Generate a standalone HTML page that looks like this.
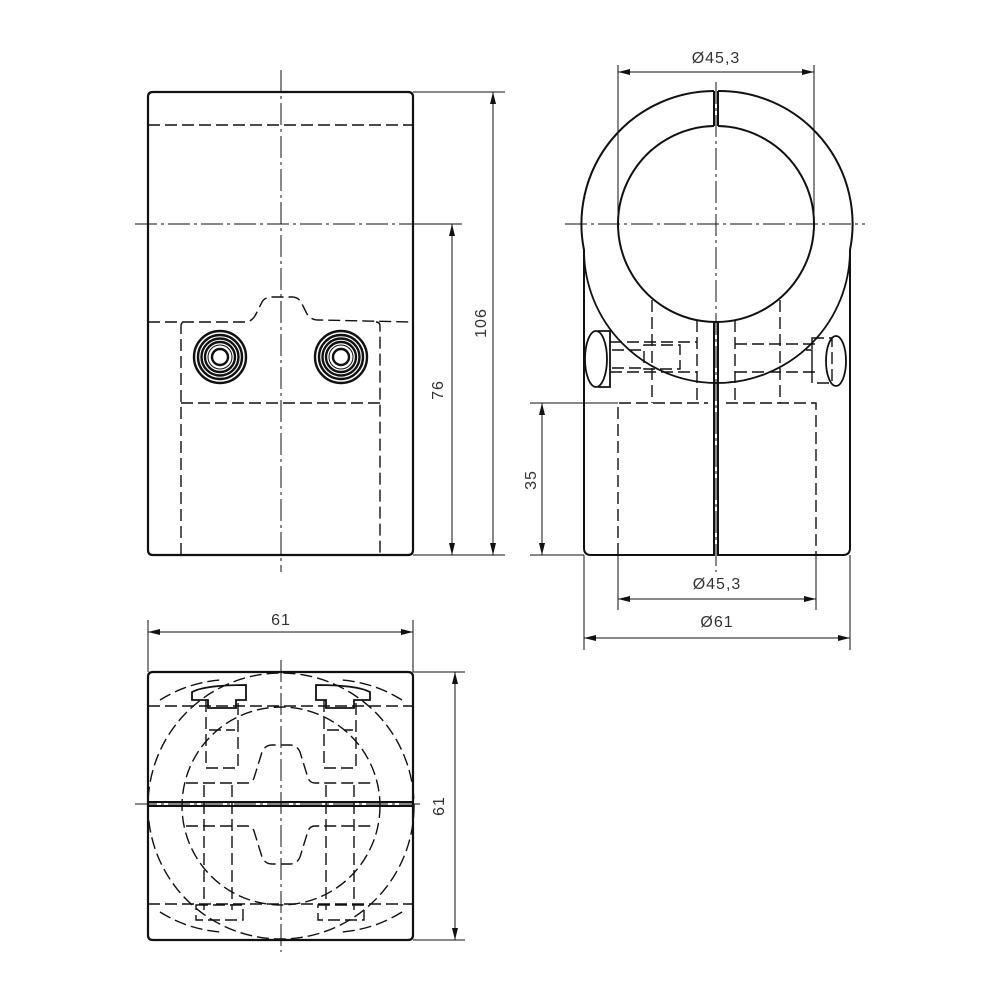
<!DOCTYPE html>
<html><head><meta charset="utf-8"><style>
html,body{margin:0;padding:0;background:#fff}
svg{display:block}
text{font-family:"Liberation Sans",sans-serif;font-size:16px;fill:#333;letter-spacing:1px}
</style></head><body>
<svg width="1000" height="1000" viewBox="0 0 1000 1000" xmlns="http://www.w3.org/2000/svg">
<defs>
<marker id="a" viewBox="0 0 12 6" refX="12" refY="3" markerWidth="12" markerHeight="6" orient="auto-start-reverse" markerUnits="userSpaceOnUse"><path d="M0,0 L12,3 L0,6z" fill="#111"/></marker>
</defs>
<g fill="none" stroke="#111">
<!-- FRONT VIEW -->
<path d="M148,97 Q148,92 153,92 L408,92 Q413,92 413,97 L413,550 Q413,555 408,555 L153,555 Q148,555 148,550 Z" stroke-width="2.2"/>
<g stroke-width="1.4" stroke-dasharray="12,5">
<line x1="148" y1="125" x2="413" y2="125"/>
<path d="M148,322 L245,322 Q252,322 256,314 L262,302 Q265,297 272,297 L292,297 Q298,297 301,302 L307,314 Q311,320 318,320 L413,322"/>
<path d="M181,555 L181,326 Q181,322 185,322 M376,322 Q380,322 380,326 L380,555"/>
<line x1="181" y1="403" x2="380" y2="403"/>
</g>
<g stroke-width="1" stroke-dasharray="22,4,3,4">
<line x1="281" y1="70" x2="281" y2="572"/>
<line x1="135" y1="224" x2="460" y2="224"/>
</g>
<g stroke-width="2.4">
<circle cx="220" cy="357" r="26"/><circle cx="220" cy="357" r="22"/><circle cx="220" cy="357" r="18.5"/><circle cx="220" cy="357" r="15"/><circle cx="220" cy="357" r="8"/>
<circle cx="341" cy="357" r="26"/><circle cx="341" cy="357" r="22"/><circle cx="341" cy="357" r="18.5"/><circle cx="341" cy="357" r="15"/><circle cx="341" cy="357" r="8"/>
</g>
<g stroke-width="1">
<circle cx="220" cy="357" r="12"/><circle cx="341" cy="357" r="12"/>
</g>
<!-- front dims -->
<g stroke-width="1">
<line x1="413" y1="92" x2="505" y2="92"/><line x1="413" y1="555" x2="505" y2="555"/>
<line x1="493" y1="92" x2="493" y2="555" marker-start="url(#a)" marker-end="url(#a)"/>
<line x1="413" y1="224" x2="462" y2="224"/>
<line x1="452" y1="224" x2="452" y2="555" marker-start="url(#a)" marker-end="url(#a)"/>
</g>

<!-- SIDE VIEW -->
<g stroke-width="2">
<path d="M714,91 A133,133 0 0 0 584,250 L584,548 Q584,555 591,555 L714,555 L714,322"/>
<path d="M718,91 A133,133 0 0 1 850,250 L850,548 Q850,555 843,555 L718,555 L718,322"/>
<path d="M714,91 L714,126 M718,91 L718,126"/>
<path d="M714,126 A98,98 0 1 0 718,126"/>
<path d="M584,250 A133,133 0 0 0 850,250" stroke-width="1.8"/>
</g>
<g stroke-width="1.4" stroke-dasharray="12,5">
<path d="M618,555 L618,403 L708,403 M726,403 L816,403 L816,555"/>
<path d="M652,300 L652,403 M697,320 L697,403 M735,320 L735,403 M780,300 L780,403"/>
<path d="M610,342 L697,342 M610,372 L697,372 M735,344 L820,344 M735,372 L820,372"/>
<rect x="644" y="345" width="36" height="24"/>
<path d="M612,350 L644,350 M612,368 L644,368"/>
<path d="M812,338 L832,338 L832,383 L812,383 Z M806,350 L812,350 L812,372 L806,372"/>
</g>
<g stroke-width="1.8">
<ellipse cx="596" cy="359" rx="11" ry="28"/>
<path d="M598,331 L610,331 L610,387 L598,387"/>
<ellipse cx="836" cy="361" rx="10" ry="25"/>
</g>
<g stroke-width="1" stroke-dasharray="22,4,3,4">
<line x1="716" y1="82" x2="716" y2="572"/>
<line x1="565" y1="224" x2="865" y2="224"/>
</g>
<g stroke-width="1">
<line x1="618" y1="65" x2="618" y2="224"/><line x1="814" y1="65" x2="814" y2="224"/>
<line x1="618" y1="72" x2="814" y2="72" marker-start="url(#a)" marker-end="url(#a)"/>
<line x1="530" y1="403" x2="618" y2="403"/><line x1="530" y1="555" x2="584" y2="555"/>
<line x1="542" y1="403" x2="542" y2="555" marker-start="url(#a)" marker-end="url(#a)"/>
<line x1="618" y1="555" x2="618" y2="610"/><line x1="816" y1="555" x2="816" y2="610"/>
<line x1="618" y1="599" x2="816" y2="599" marker-start="url(#a)" marker-end="url(#a)"/>
<line x1="584" y1="555" x2="584" y2="650"/><line x1="850" y1="555" x2="850" y2="650"/>
<line x1="584" y1="638" x2="850" y2="638" marker-start="url(#a)" marker-end="url(#a)"/>
</g>

<!-- TOP VIEW -->
<path d="M148,677 Q148,672 153,672 L408,672 Q413,672 413,677 L413,935 Q413,940 408,940 L153,940 Q148,940 148,935 Z" stroke-width="2.2"/>
<line x1="148" y1="802" x2="413" y2="802" stroke-width="2"/>
<line x1="148" y1="806" x2="413" y2="806" stroke-width="2"/>
<g stroke-width="1.4" stroke-dasharray="12,5">
<circle cx="281" cy="806" r="133"/>
<circle cx="281" cy="806" r="99"/>
<path d="M148,706 L413,706 M148,904 L413,904"/>
<path d="M186,783 L247,783 Q252,783 254,778 L262,752 Q265,745 272,745 L290,745 Q297,745 300,752 L308,778 Q310,783 315,783 L373,783"/>
<path d="M186,826 L247,826 Q252,826 254,831 L262,857 Q265,864 272,864 L290,864 Q297,864 300,857 L308,831 Q310,826 315,826 L373,826"/>
<path d="M206,700 L206,768 L238,768 L238,700 M324,700 L324,768 L356,768 L356,700"/>
<path d="M209,730 L235,730 M327,730 L353,730"/>
<path d="M204,785 L204,910 M232,785 L232,910 M326,785 L326,910 M354,785 L354,910"/>
<path d="M196,905 L243,905 L243,920 L196,920 Z M318,905 L364,905 L364,920 L318,920 Z"/>
<path d="M160,700 A133,133 0 0 1 220,680 M402,700 A133,133 0 0 0 342,680 M160,912 A133,133 0 0 0 220,932 M402,912 A133,133 0 0 1 342,932"/>
</g>
<g stroke-width="1.8">
<path d="M192,700 L192,692 Q205,685 246,685 L246,700 L236,700 L236,708 L208,708 L208,700 Z"/>
<path d="M370,700 L370,692 Q357,685 316,685 L316,700 L326,700 L326,708 L354,708 L354,700 Z"/>
</g>
<g stroke-width="1" stroke-dasharray="22,4,3,4">
<line x1="281" y1="660" x2="281" y2="952"/>
<line x1="135" y1="804" x2="420" y2="804"/>
</g>
<g stroke-width="1">
<line x1="148" y1="620" x2="148" y2="672"/><line x1="413" y1="620" x2="413" y2="672"/>
<line x1="148" y1="632" x2="413" y2="632" marker-start="url(#a)" marker-end="url(#a)"/>
<line x1="413" y1="672" x2="465" y2="672"/><line x1="413" y1="940" x2="465" y2="940"/>
<line x1="455" y1="672" x2="455" y2="940" marker-start="url(#a)" marker-end="url(#a)"/>
</g>
</g>
<text x="716" y="63" text-anchor="middle">Ø45,3</text>
<text x="717" y="589" text-anchor="middle">Ø45,3</text>
<text x="717" y="627" text-anchor="middle">Ø61</text>
<text x="281" y="625" text-anchor="middle">61</text>
<text transform="translate(486,323) rotate(-90)" text-anchor="middle">106</text>
<text transform="translate(443,390) rotate(-90)" text-anchor="middle">76</text>
<text transform="translate(536,480) rotate(-90)" text-anchor="middle">35</text>
<text transform="translate(444,806) rotate(-90)" text-anchor="middle">61</text>
</svg>
</body></html>
